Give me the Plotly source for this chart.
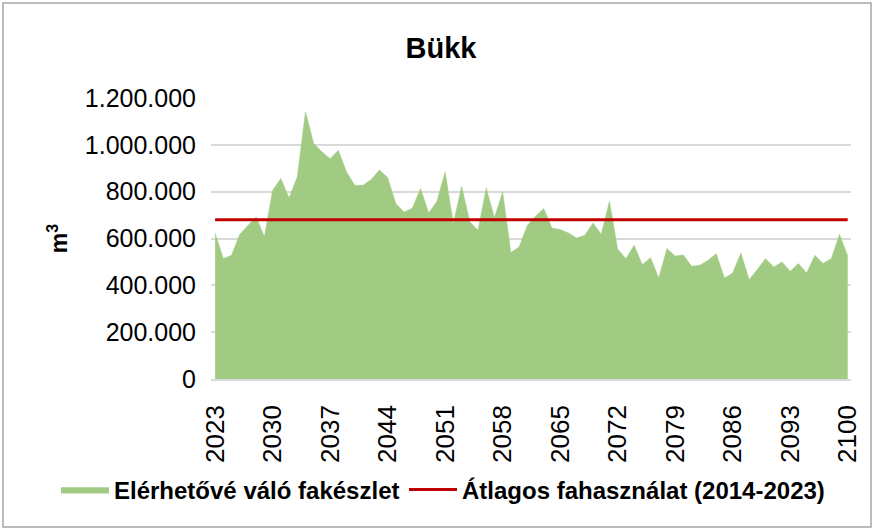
import plotly.graph_objects as go

years = list(range(2023, 2101))
fakeszlet = [
    623000, 514000, 528000, 618000, 656000, 692000, 607000, 806000, 856000, 773000,
    863000, 1141000, 1006000, 970000, 941000, 977000, 884000, 827000, 827000, 852000,
    892000, 860000, 749000, 713000, 729000, 813000, 709000, 759000, 884000, 664000,
    823000, 671000, 635000, 816000, 689000, 799000, 540000, 564000, 656000, 695000,
    728000, 645000, 638000, 624000, 602000, 614000, 666000, 618000, 759000, 555000,
    514000, 571000, 488000, 518000, 431000, 557000, 525000, 530000, 481000, 486000,
    507000, 535000, 431000, 453000, 538000, 424000, 468000, 514000, 478000, 500000,
    460000, 493000, 453000, 528000, 493000, 514000, 618000, 525000,
]
atlag_ertek = 680000
xtick_vals = list(range(2023, 2101, 7))
ytick_vals = [0, 200000, 400000, 600000, 800000, 1000000, 1200000]

FONT = "Liberation Sans, Arial, sans-serif"

fig = go.Figure()
fig.add_trace(go.Scatter(
    x=years, y=fakeszlet, mode="lines", fill="tozeroy",
    line=dict(color="#A1CB82", width=0.5), fillcolor="#A1CB82",
    name="<b>Elérhetővé váló fakészlet</b>", legend="legend",
))
fig.add_trace(go.Scatter(
    x=[years[0], years[-1]], y=[atlag_ertek, atlag_ertek], mode="lines",
    line=dict(color="#C00000", width=3),
    name="<b>Átlagos fahasználat (2014-2023)</b>", legend="legend2",
))

L, R, T, B = 211, 851, 98, 379
W, H = 874, 530

def px_x(p):
    return (p - L) / (R - L)

def px_y(p):
    return (B - p) / (B - T)

fig.add_shape(type="rect", xref="paper", yref="paper",
              x0=px_x(3), x1=px_x(871), y0=px_y(527), y1=px_y(3),
              line=dict(color="#A6A6A6", width=1.5), fillcolor="rgba(0,0,0,0)", layer="below")

legend_common = dict(orientation="h", xref="container", xanchor="left",
                     yref="container", yanchor="middle", y=1 - 490 / H,
                     font=dict(size=24, family=FONT), itemwidth=48,
                     bgcolor="rgba(0,0,0,0)", borderwidth=0)

fig.update_layout(
    width=W, height=H,
    margin=dict(l=L, r=W - R, t=T, b=H - B, pad=0, autoexpand=False),
    paper_bgcolor="white", plot_bgcolor="white",
    separators=",.",
    font=dict(family=FONT, color="black", size=24),
    title=dict(text="<b>Bükk</b>", x=441 / W, xref="container", xanchor="center",
               y=1 - 48 / H, yref="container", yanchor="middle",
               font=dict(size=29, family=FONT)),
    showlegend=True,
    legend=dict(x=56 / W, **legend_common),
    legend2=dict(x=404 / W, **legend_common),
    xaxis=dict(range=[2022.5, 2100.4], tickmode="array", tickvals=xtick_vals,
               tickangle=-90, showgrid=False, showline=True, linecolor="#D9D9D9",
               linewidth=1.5, ticks="", ticklabelstandoff=14, zeroline=False,
               automargin=False, tickfont=dict(size=26, family=FONT)),
    yaxis=dict(range=[0, 1200000], tickmode="array", tickvals=ytick_vals,
               tickformat=",d", showgrid=True, gridcolor="#D9D9D9", gridwidth=1.5,
               showline=False, ticks="", ticklabelstandoff=14, zeroline=False,
               automargin=False, tickfont=dict(size=25, family=FONT),
               title=dict(text="<b>m<sup>3</sup></b>", standoff=10,
                          font=dict(size=23, family=FONT))),
)

fig.write_html("out.html", config={"displayModeBar": False},
               post_script="document.body.style.margin='0px';")
